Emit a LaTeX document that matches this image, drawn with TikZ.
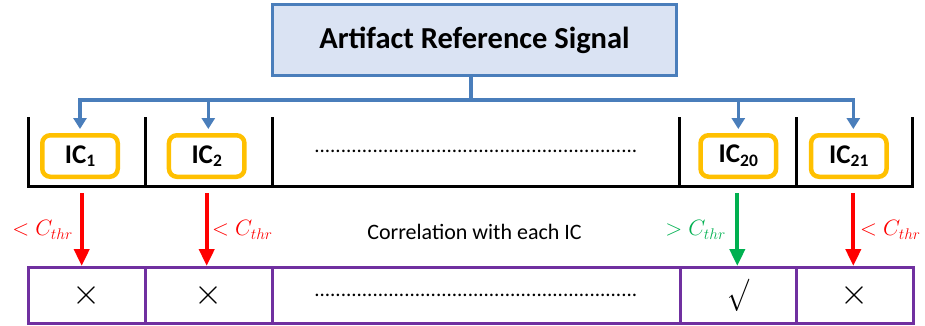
\documentclass[tikz,border=0pt]{standalone}
\usepackage{graphicx}
\usepackage{fontspec}
\setmainfont{Carlito}
\usetikzlibrary{arrows.meta}
\definecolor{blueln}{HTML}{4A7EBB}
\definecolor{bluefill}{HTML}{DAE3F3}
\definecolor{orng}{HTML}{FFC000}
\definecolor{redarr}{HTML}{FF0000}
\definecolor{greenarr}{HTML}{00B050}
\definecolor{purp}{HTML}{7030A0}
\newcommand{\icsub}[1]{IC\raisebox{-0.28ex}{\fontsize{17.5}{20}\selectfont #1}}
\newcommand{\dotrow}{.............................................................}
\newcommand{\bigx}{\scalebox{1.45}{$\times$}}
\newcommand{\bigsurd}{\scalebox{1.05}[1.3]{$\surd$}}
\newcommand{\thr}[1]{\scalebox{1.07}{$#1C_{thr}$}}
\begin{document}
\begin{tikzpicture}[x=1pt,y=-1pt,
  titlebox/.style={draw=blueln, fill=bluefill, line width=2.8pt, minimum width=404pt, minimum height=71pt, inner sep=0pt, font=\fontsize{30.5}{36}\selectfont\bfseries},
  icbox/.style={draw=orng, line width=4.5pt, rounded corners=8pt, minimum width=75.5pt, minimum height=41.5pt, inner sep=0pt, font=\fontsize{27}{32}\selectfont\bfseries},
  cellbox/.style={draw=purp, line width=3pt, minimum height=56pt, inner sep=0pt, font=\fontsize{24}{30}\selectfont},
  bluearrow/.style={draw=blueln, line width=3.5pt, -{Triangle[length=11pt,width=13pt]}},
  redarrow/.style={draw=redarr, line width=4pt, -{Triangle[length=17pt,width=15pt]}},
  greenarrow/.style={draw=greenarr, line width=4pt, -{Triangle[length=17pt,width=15pt]}},
  bracket/.style={draw=black, line width=3pt},
  thrlabel/.style={inner sep=0pt, font=\fontsize{21}{25}\selectfont},
  dotstext/.style={inner sep=0pt, font=\fontsize{21}{25}\selectfont},
  plain/.style={inner sep=0pt, font=\fontsize{22}{26}\selectfont}
]
\useasboundingbox (0,0) rectangle (925,325);

% title
\node[titlebox] (title) at (474.5,40) {Artifact Reference Signal};

% IC boxes
\node[icbox] (ic1) at (80,156) {\icsub{1}};
\node[icbox] (ic2) at (206.7,156) {\icsub{2}};
\node[icbox] (ic20) at (738.3,156) {\icsub{20}};
\node[icbox] (ic21) at (848.8,156) {\icsub{21}};
\node[dotstext] (dtop) at (476,151) {\dotrow};

% black bracket row
\draw[bracket] (28,117) -- (28,186) -- (912,186) -- (912,117);
\draw[bracket] (145,117) -- (145,186);
\draw[bracket] (272,117) -- (272,186);
\draw[bracket] (679,117) -- (679,186);
\draw[bracket] (796,117) -- (796,186);

% blue connectors
\coordinate (hub) at (471,100);
\draw[draw=blueln, line width=3.5pt] (title.south -| hub) -- (hub);
\draw[bluearrow, shorten >=4pt] (hub) -| (ic1.north);
\draw[bluearrow, shorten >=4pt] (hub) -| ([xshift=1.6pt]ic2.north);
\draw[bluearrow, shorten >=4pt] (hub) -| (ic20.north);
\draw[bluearrow, shorten >=4pt] (hub) -| ([xshift=4.5pt]ic21.north);

% bottom purple cells
\node[cellbox, minimum width=117pt] (c1) at (86.5,295.5) {\bigx};
\node[cellbox, minimum width=127pt] (c2) at (208.5,295.5) {\bigx};
\node[cellbox, minimum width=408pt] (c3) at (476,295.5) {};
\node[cellbox, minimum width=116pt] (c4) at (738,295.5) {\bigsurd};
\node[cellbox, minimum width=117pt] (c5) at (854.5,295.5) {\bigx};
\node[dotstext] (dbot) at (476,295) {\dotrow};

% correlation arrows
\draw[redarrow] ([xshift=1.7pt]ic1.south |- 0,193) -- ([xshift=1.7pt]ic1.south |- c1.north);
\draw[redarrow] ([xshift=0pt]ic2.south |- 0,193) -- ([xshift=0pt]ic2.south |- c2.north);
\draw[greenarrow] ([xshift=-1pt]ic20.south |- 0,193) -- ([xshift=-1pt]ic20.south |- c4.north);
\draw[redarrow] ([xshift=4.5pt]ic21.south |- 0,193) -- ([xshift=4.5pt]ic21.south |- c5.north);

% labels
\node[thrlabel, text=redarr, anchor=east] (l1) at (73,230) {\thr{<}};
\node[thrlabel, text=redarr, anchor=west] (l2) at (212,230) {\thr{<}};
\node[thrlabel, text=greenarr, anchor=east] (l20) at (726,230) {\thr{>}};
\node[thrlabel, text=redarr, anchor=west] (l21) at (860,230) {\thr{<}};
\node[plain] (corr) at (474.5,232) {Correlation with each IC};
\end{tikzpicture}
\end{document}
